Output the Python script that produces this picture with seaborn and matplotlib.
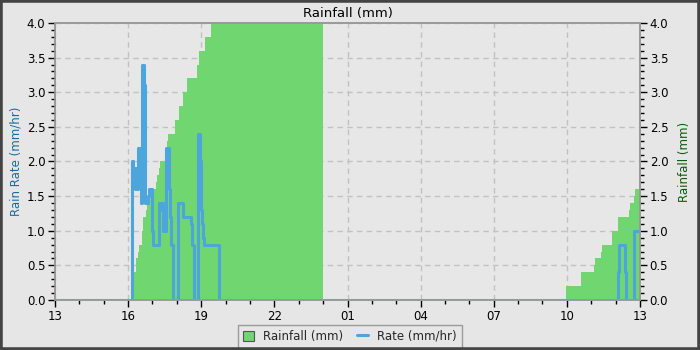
import matplotlib
matplotlib.use("Agg")
import matplotlib.pyplot as plt
import matplotlib.dates as mdates
from matplotlib.patches import Patch, Rectangle
from matplotlib.lines import Line2D
import seaborn as sns
import pandas as pd
import numpy as np

# ---- data ----
rate_times = ["13:00", "16:09", "16:12", "16:17", "16:19", "16:21", "16:24", "16:29", "16:31",
              "16:32", "16:34", "16:39", "16:41", "16:42", "16:49", "16:51", "16:59", "17:00",
              "17:01", "17:16", "17:22", "17:24", "17:26", "17:34", "17:40", "17:43", "17:46",
              "17:51", "18:02", "18:03", "18:14", "18:34", "18:36", "18:42", "18:53", "18:58",
              "19:00", "19:02", "19:04", "19:06", "19:43", "12:06", "12:08", "12:23", "12:25",
              "12:44", "13:00"]
rate_values = [0.0, 2.0, 1.9, 1.6, 1.9, 1.6, 2.2, 2.1, 1.7,
               1.4, 3.4, 3.1, 2.1, 1.4, 1.5, 1.6, 1.2, 1.0,
               0.8, 1.4, 1.3, 1.4, 1.0, 2.2, 1.6, 1.2, 0.8,
               0.0, 0.7, 1.4, 1.2, 1.1, 0.8, 0.0, 2.4, 2.0,
               1.3, 1.1, 0.9, 0.8, 0.0, 0.4, 0.8, 0.4, 0.0,
               1.0, 1.0]

rain_times = ["13:00", "16:07", "16:14", "16:19", "16:24", "16:27", "16:34", "16:37", "16:44",
              "16:46", "17:01", "17:08", "17:11", "17:16", "17:18", "17:31", "17:33", "17:36",
              "17:38", "17:55", "18:05", "18:15", "18:25", "18:50", "18:54", "19:09", "19:24",
              "19:32", "19:42", "00:00", "09:58", "10:35", "11:07", "11:09", "11:24", "11:26",
              "11:51", "12:06", "12:33", "12:35", "12:45", "12:47", "13:00"]
rain_values = [0.0, 0.2, 0.4, 0.6, 0.7, 0.8, 1.0, 1.2, 1.3,
               1.5, 1.6, 1.7, 1.8, 1.9, 2.0, 2.1, 2.2, 2.3,
               2.4, 2.6, 2.8, 3.0, 3.2, 3.4, 3.6, 3.8, 4.0,
               4.2, 4.4, 0.0, 0.2, 0.4, 0.5, 0.6, 0.7, 0.8,
               1.0, 1.2, 1.3, 1.4, 1.5, 1.6, 1.6]

y_ticks = [0.0, 0.5, 1.0, 1.5, 2.0, 2.5, 3.0, 3.5, 4.0]
x_tick_hours = [13, 16, 19, 22, 1, 4, 7, 10, 13]


def to_datetimes(times):
    base = pd.Timestamp("2024-01-01 00:00")
    out = []
    prev = None
    day = 0
    for i, t in enumerate(times):
        h, m = map(int, t.split(":"))
        mins = h * 60 + m
        if prev is not None and mins < prev:
            day = 1
        if i == len(times) - 1 and t == "13:00" and i > 0:
            day = 1
        prev = mins
        out.append(base + pd.Timedelta(days=day, minutes=mins))
    return out


rate_df = pd.DataFrame({"time": to_datetimes(rate_times), "rate": rate_values})
rain_df = pd.DataFrame({"time": to_datetimes(rain_times), "rain": rain_values})

GREEN = "#70d670"
BLUE = "#4ca6dc"
BG = "#e7e7e7"

sns.set_theme(style="white")
plt.rcParams["font.family"] = ["DejaVu Sans"]

fig = plt.figure(figsize=(7, 3.5), dpi=100, facecolor="#e6e6e6")
ax2 = fig.add_axes([55 / 700, 1 - 300 / 350, 585 / 700, 277 / 350])
ax = ax2.twinx()
ax.yaxis.tick_left()
ax.yaxis.set_label_position("left")
ax2.yaxis.tick_right()
ax2.yaxis.set_label_position("right")

ax2.set_facecolor(BG)
ax2.patch.set_visible(True)
ax.patch.set_visible(False)
ax.set_zorder(ax2.get_zorder() + 1)

# rainfall (right axis)
ax2.fill_between(rain_df["time"], 0, rain_df["rain"], step="post", color=GREEN,
                 linewidth=0, zorder=2)
# rate (left axis)
sns.lineplot(data=rate_df, x="time", y="rate", ax=ax, color=BLUE, linewidth=2.2,
             drawstyle="steps-post", legend=False, estimator=None)

x0 = pd.Timestamp("2024-01-01 13:00")
x1 = pd.Timestamp("2024-01-02 13:00")
for a in (ax, ax2):
    a.set_xlim(x0, x1)
    a.set_ylim(0, 4.0)
    a.set_yticks(y_ticks)
    a.yaxis.set_minor_locator(matplotlib.ticker.MultipleLocator(0.1))
    for s in a.spines.values():
        s.set_color("#999999")
        s.set_linewidth(1.2)

ax.yaxis.set_major_formatter(matplotlib.ticker.FormatStrFormatter("%.1f"))
ax2.yaxis.set_major_formatter(matplotlib.ticker.FormatStrFormatter("%.1f"))

ax2.xaxis.set_major_locator(mdates.HourLocator(byhour=x_tick_hours))
ax2.xaxis.set_major_formatter(mdates.DateFormatter("%H"))
ax2.xaxis.set_minor_locator(mdates.HourLocator())

ax2.grid(True, which="major", axis="both", color="#c2c2c2", linestyle=(0, (4, 3)), linewidth=1.0, zorder=0)
ax2.set_axisbelow(True)

for a in (ax, ax2):
    a.tick_params(which="major", direction="out", length=5, width=1, color="black",
                  labelsize=8.5, labelcolor="black", pad=2)
    a.tick_params(which="minor", direction="out", length=3, width=1, color="black")
ax.tick_params(axis="y", which="both", left=True, right=False, labelleft=True, labelright=False)
ax2.tick_params(axis="y", which="both", left=False, right=True, labelleft=False, labelright=True)
ax2.tick_params(axis="x", which="both", bottom=True)
ax.tick_params(axis="x", which="both", bottom=False, labelbottom=False)

ax.set_xlabel("")
ax2.set_xlabel("")
ax.set_ylabel("Rain Rate (mm/hr)", color="#1a6a9c", fontsize=8.5, labelpad=3)
ax2.set_ylabel("Rainfall (mm)", color="#0a5a0a", fontsize=8.5, labelpad=7)
ax2.set_title("Rainfall (mm)", fontsize=9.5, color="black", pad=4)

handles = [Patch(facecolor=GREEN, edgecolor="#555555", linewidth=0.8),
           Line2D([0], [0], color=BLUE, linewidth=2.2)]
leg = fig.legend(handles, ["Rainfall (mm)", "Rate (mm/hr)"], loc="lower center",
                 bbox_to_anchor=(0.5, 0.0), ncol=2, fontsize=8.5, frameon=True,
                 fancybox=False, handlelength=0.9, handleheight=0.9, columnspacing=1.2,
                 handletextpad=0.8, borderpad=0.4, borderaxespad=0.2)
leg.get_frame().set_edgecolor("#888888")
leg.get_frame().set_facecolor("#e6e6e6")
leg.get_frame().set_linewidth(1.0)

fig.patches.append(Rectangle((0, 0), 1, 1, transform=fig.transFigure, fill=False,
                             edgecolor="#444444", linewidth=4, zorder=10))

fig.savefig("out.png", dpi=100, facecolor=fig.get_facecolor())
